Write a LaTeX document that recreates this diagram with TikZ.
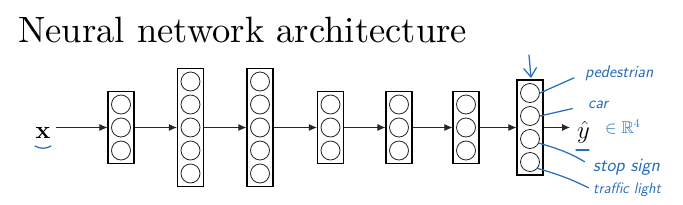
\documentclass[tikz,border=0pt]{standalone}
\usepackage{amsmath,amssymb}
\usepackage{graphicx}
\usepackage{tikz}
\usetikzlibrary{arrows.meta,positioning}

\definecolor{penblue}{RGB}{40,110,185}

\begin{document}
\begin{tikzpicture}[>=Latex, x=1pt, y=-1pt,
    layer/.style={draw, line width=1.1pt, minimum width=26pt, inner sep=0pt},
    unit/.style={draw, circle, line width=0.8pt, black!85, minimum size=19pt, inner sep=0pt},
    link/.style={->, line width=0.8pt, black!85, >={Latex[length=8pt,width=7pt]}},
    pen/.style={penblue, line width=1.25pt, line cap=round},
    hand/.style={penblue, inner sep=0pt, font=\sffamily\itshape\fontsize{17}{17}\selectfont}]
    \useasboundingbox (0,0) rectangle (683,204);

    % Title
    \node[anchor=base west, inner sep=0pt] (title) at (18,42) {\scalebox{3.66}{Neural network architecture}};

    % Layers
    \foreach \name/\cx/\n in {l1/121/3, l2/190.5/5, l3/260/5, l4/330.5/3, l5/399/3, l6/466/3, l7/530/4} {
        \node[layer, minimum height=\n*23+3] (\name) at (\cx,127.5) {};
        \foreach \k in {1,...,\n}
            \node[unit] (\name c\k) at (\cx, {127.5 + (\k - (\n+1)/2)*23}) {};
    }

    % Input and output
    \node[anchor=base, inner sep=0pt, font=\fontsize{25}{25}\selectfont] (xin) at (43,138) {$\mathbf{x}$};
    \node[anchor=base west, inner sep=0pt, font=\fontsize{25}{25}\selectfont] (yhat) at (577,138) {$\hat{y}$};

    % Connections
    \draw[link] (xin.east |- l1.west) ++(5,0) -- (l1.west);
    \draw[link] (l1) -- (l2);
    \draw[link] (l2) -- (l3);
    \draw[link] (l3) -- (l4);
    \draw[link] (l4) -- (l5);
    \draw[link] (l5) -- (l6);
    \draw[link] (l6) -- (l7);
    \draw[link, shorten >=7pt] (l7.east) -- (yhat.west |- l7.east);

    % Handwritten notes
    \node[hand, anchor=west] (ped) at (585,73) {pedestrian};
    \node[hand, anchor=west] (car) at (588,105) {car};
    \node[hand, anchor=west] (dim) at (605,127) {$\in\mathbb{R}^4$};
    \node[hand, anchor=west, font=\sffamily\itshape\fontsize{19}{19}\selectfont] (stop) at (593,167) {stop sign};
    \node[hand, anchor=west, font=\sffamily\itshape\fontsize{15}{15}\selectfont] (light) at (593,190) {traffic light};

    \draw[pen, shorten >=12pt] (l7c1.east) -- (ped.west);
    \draw[pen, shorten >=16pt] (l7c2.east) -- (car.west);
    \draw[pen, shorten >=10pt] (l7c3.-25) to[bend left=8] (stop.west);
    \draw[pen, shorten >=5pt] (l7c4.-40) to[bend left=5] (light.west);
    \draw[pen, -{Straight Barb[length=9pt,width=13pt]}] (529,55) -- (531,78);
    \draw[pen] (35,146) .. controls (40,149) and (46,149) .. (51,146);
    \draw[pen] (576,150) -- (589,150);
\end{tikzpicture}
\end{document}
